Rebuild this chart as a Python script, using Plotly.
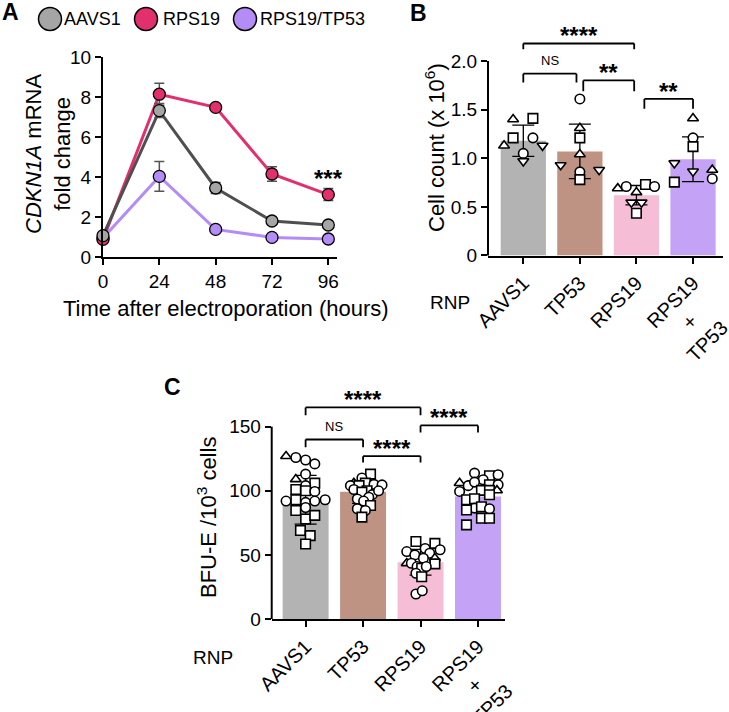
import plotly.graph_objects as go

W, H = 729, 712
FONT = "Liberation Sans, Arial, Helvetica, sans-serif"

# ---------------- Panel A data ----------------
time_h = [0, 24, 48, 72, 96]
aavs1_fc = [1.07, 7.32, 3.45, 1.80, 1.60]
aavs1_sd = [0.05, 0.35, 0.27, 0.15, 0.12]
rps19_fc = [0.88, 8.14, 7.48, 4.15, 3.12]
rps19_sd = [0.05, 0.55, 0.10, 0.36, 0.30]
rps19tp53_fc = [0.95, 4.03, 1.38, 0.98, 0.90]
rps19tp53_sd = [0.05, 0.74, 0.10, 0.08, 0.06]
series_names = ["AAVS1", "RPS19", "RPS19/TP53"]

# ---------------- Panel B data ----------------
NB = "\u00a0"
groups = ["AAVS1", "TP53", "RPS19", "RPS19<br>+" + NB * 5 + "<br>TP53" + NB * 2]
cell_mean = [1.18, 1.07, 0.62, 0.99]
cell_sd = [0.16, 0.28, 0.10, 0.23]
b_aavs1 = [1.40, 1.41, 1.21, 1.21, 1.13, 1.13, 1.05, 0.97]
b_aavs1_sym = ["triangle-up", "square", "square", "circle", "triangle-up", "triangle-down", "circle", "triangle-down"]
b_aavs1_jit = [-0.18, 0.17, -0.18, 0.17, -0.34, 0.34, 0.0, 0.0]
b_tp53 = [1.61, 1.31, 1.21, 1.04, 0.93, 0.88, 0.86, 0.78]
b_tp53_sym = ["circle", "triangle-up", "square", "triangle-up", "triangle-down", "triangle-down", "circle", "square"]
b_tp53_jit = [0.0, 0.0, 0.0, 0.0, -0.34, 0.34, 0.0, 0.0]
b_rps19 = [0.69, 0.71, 0.73, 0.71, 0.65, 0.545, 0.545, 0.435]
b_rps19_sym = ["triangle-up", "circle", "square", "circle", "triangle-up", "triangle-down", "triangle-down", "square"]
b_rps19_jit = [-0.33, -0.18, 0.16, 0.32, 0.0, -0.09, 0.09, 0.0]
b_dbl = [1.41, 1.21, 1.12, 0.95, 0.865, 0.88, 0.79, 0.755]
b_dbl_sym = ["triangle-up", "circle", "square", "triangle-down", "triangle-down", "triangle-up", "circle", "square"]
b_dbl_jit = [0.0, 0.0, 0.0, -0.33, 0.0, 0.34, 0.34, -0.33]

# ---------------- Panel C data ----------------
bfu_mean = [93.0, 99.2, 44.3, 95.6]
bfu_sd = [19.0, 9.0, 10.0, 12.0]
c_aavs1 = [127, 126, 124, 121, 113, 109, 106, 104, 101, 100, 99.5, 92, 93, 91, 92, 93, 84.6, 87, 78, 80.8, 69, 65, 58.5]
c_aavs1_sym = ["triangle-up", "circle", "circle", "circle", "circle", "triangle-up", "square", "circle", "square", "square",
               "circle", "circle", "square", "circle", "circle", "circle", "square", "circle", "square", "square",
               "square", "square", "square"]
c_aavs1_jit = [-0.34, -0.17, 0.0, 0.16, 0.0, -0.17, 0.16, 0.0, -0.17, 0.0,
               0.16, -0.34, -0.17, 0.0, 0.16, 0.34, -0.17, 0.0, 0.0, 0.16,
               -0.09, 0.08, 0.0]
c_tp53 = [113, 110, 106, 106, 104, 104, 105, 104.6, 100, 101, 99, 97, 100, 95, 93.6, 92, 88.5, 86, 84.6, 79.5]
c_tp53_sym = ["square", "circle", "square", "triangle-up", "circle", "square", "circle", "circle", "square", "circle",
              "square", "circle", "circle", "circle", "circle", "circle", "square", "circle", "circle", "square"]
c_tp53_jit = [0.13, -0.02, 0.04, -0.16, -0.22, -0.07, 0.19, 0.33, 0.07, -0.16,
              -0.02, 0.16, 0.27, 0.10, -0.10, 0.01, 0.13, -0.10, 0.04, -0.02]
c_rps19 = [60.4, 59, 52.6, 55, 54, 50, 51.3, 47.4, 47.4, 43.5, 43.5, 43, 40.9, 39.6, 40.9, 35.7, 33, 19.5, 22]
c_rps19_sym = ["square", "square", "circle", "circle", "circle", "circle", "circle", "circle", "triangle-up", "triangle-up",
               "circle", "square", "circle", "square", "circle", "circle", "square", "circle", "circle"]
c_rps19_jit = [-0.08, 0.25, -0.24, 0.08, 0.34, -0.10, 0.16, 0.05, 0.25, -0.24,
               -0.16, 0.25, -0.06, 0.02, 0.10, -0.08, 0.02, -0.08, 0.03]
c_dbl = [113.8, 111.7, 112.5, 108.6, 106, 104, 106.8, 104.7, 104.7, 99.5, 100.3, 100.3, 100.3, 93, 93.8, 96.9,
         86.5, 85, 87.5, 86, 78.6, 78.6, 73.4]
c_dbl_sym = ["circle", "square", "circle", "circle", "triangle-up", "circle", "circle", "square", "circle", "circle",
             "square", "square", "triangle-up", "square", "square", "square", "circle", "square", "square", "circle",
             "square", "square", "square"]
c_dbl_jit = [-0.06, 0.20, 0.35, 0.09, -0.32, -0.17, -0.06, 0.20, 0.35, -0.32,
             0.06, 0.20, 0.33, -0.20, -0.06, 0.20, -0.06, -0.20, 0.06, 0.20,
             0.06, 0.20, -0.20]

# ---------------- styles ----------------
line_cols = {"AAVS1": "#4f4f4f", "RPS19": "#e2306f", "RPS19/TP53": "#b48cf5"}
fill_cols = {"AAVS1": "#a5a5a5", "RPS19": "#e2306f", "RPS19/TP53": "#b48cf5"}
bar_cols = ["#b3b3b3", "#bf9383", "#f5bed6", "#c4a3f6"]
TICKF = dict(family=FONT, size=19, color="black")
CATF = dict(family=FONT, size=20, color="black")

def px(x):
    return x / W

def py(y):
    return 1 - y / H

fig = go.Figure()

# ---- Panel A traces ----
for name, ys, sd in [("RPS19/TP53", rps19tp53_fc, rps19tp53_sd),
                     ("RPS19", rps19_fc, rps19_sd),
                     ("AAVS1", aavs1_fc, aavs1_sd)]:
    fig.add_trace(go.Scatter(
        x=time_h, y=ys, mode="lines+markers", name=name, showlegend=False,
        line=dict(color=line_cols[name], width=3),
        marker=dict(size=12, color=fill_cols[name], line=dict(color="black", width=1.3)),
        error_y=dict(type="data", array=sd, color="#555555", thickness=1.5, width=5),
        cliponaxis=False, xaxis="x", yaxis="y"))

# ---- bar panels ----
def bar_panel(xa, ya, means, sds, pts):
    fig.add_trace(go.Bar(
        x=list(range(len(means))), y=means, width=0.8,
        marker=dict(color=bar_cols, line=dict(width=0)),
        error_y=dict(type="data", array=sds, color="black", thickness=1.3, width=11),
        showlegend=False, xaxis=xa, yaxis=ya))
    for i, (vals, syms, jit) in enumerate(pts):
        fig.add_trace(go.Scatter(
            x=[i + j for j in jit], y=vals, mode="markers", showlegend=False,
            marker=dict(symbol=syms, size=9.5, color="white", line=dict(color="black", width=1.6)),
            cliponaxis=False, xaxis=xa, yaxis=ya))

bar_panel("x2", "y2", cell_mean, cell_sd,
          [(b_aavs1, b_aavs1_sym, b_aavs1_jit), (b_tp53, b_tp53_sym, b_tp53_jit),
           (b_rps19, b_rps19_sym, b_rps19_jit), (b_dbl, b_dbl_sym, b_dbl_jit)])
bar_panel("x3", "y3", bfu_mean, bfu_sd,
          [(c_aavs1, c_aavs1_sym, c_aavs1_jit), (c_tp53, c_tp53_sym, c_tp53_jit),
           (c_rps19, c_rps19_sym, c_rps19_jit), (c_dbl, c_dbl_sym, c_dbl_jit)])

shapes = []
annos = []

def bracket(xa, ya, x0, x1, ytop, yl, yr, label, small=False):
    pts = [(x0, yl, x0, ytop), (x0, ytop, x1, ytop), (x1, ytop, x1, yr)]
    for a, b, c, d in pts:
        shapes.append(dict(type="line", xref=xa, yref=ya, x0=a, y0=b, x1=c, y1=d,
                           line=dict(color="black", width=1.8)))
    if small:
        annos.append(dict(xref=xa, yref=ya, x=(x0 + x1) / 2, y=ytop, xanchor="center", yanchor="bottom",
                          yshift=4, text=label, showarrow=False,
                          font=dict(family=FONT, size=13, color="black")))
    else:
        annos.append(dict(xref=xa, yref=ya, x=(x0 + x1) / 2, y=ytop, xanchor="center", yanchor="bottom",
                          yshift=-8, text=label, showarrow=False,
                          font=dict(family=FONT, size=24, color="black", weight="bold")))

# B brackets
YMAX_B = 2.25
bracket("x2", "y2", 0, 1.96, 2.18, 2.12, 2.12, "****")
bracket("x2", "y2", 0, 0.94, 1.87, 1.78, 1.78, "NS", small=True)
bracket("x2", "y2", 1.06, 1.96, 1.80, 1.69, 1.69, "**")
bracket("x2", "y2", 2.14, 3.0, 1.61, 1.51, 1.51, "**")
# C brackets
YMAX_C = 170
bracket("x3", "y3", 0, 2.0, 165, 159, 159, "****")
bracket("x3", "y3", 0, 1.0, 140, 134, 134, "NS", small=True)
bracket("x3", "y3", 1.0, 2.0, 127, 122, 122, "****")
bracket("x3", "y3", 2.0, 3.0, 151, 145.5, 145.5, "****")

# y spines for bar panels (end at top tick)
for xa, ya, top in [("x2", "y2", 2.0 / YMAX_B), ("x3", "y3", 150 / YMAX_C)]:
    shapes.append(dict(type="line", xref=xa + " domain", yref=ya + " domain", x0=0, x1=0, y0=0, y1=top,
                       line=dict(color="black", width=2)))

# "***" in A
annos.append(dict(xref="x", yref="y", x=96, y=3.15, xanchor="center", yanchor="bottom", text="***",
                  showarrow=False, font=dict(family=FONT, size=24, color="black", weight="bold")))

# legend A
leg_pos = [(50, 62), (146, 161), (245, 258)]
for (cx, tx), name in zip(leg_pos, series_names):
    shapes.append(dict(type="circle", xref="paper", yref="paper", xsizemode="pixel", ysizemode="pixel",
                       xanchor=px(cx), yanchor=py(19), x0=-11.5, x1=11.5, y0=-11.5, y1=11.5,
                       fillcolor=fill_cols[name], line=dict(color="black", width=1.5)))
    annos.append(dict(xref="paper", yref="paper", x=px(tx), y=py(19), xanchor="left", yanchor="middle",
                      text=name, showarrow=False, font=dict(family=FONT, size=18, color="black")))

# titles
TF = dict(family=FONT, size=22, color="black")
def label(x, y, text, font, angle=0):
    annos.append(dict(xref="paper", yref="paper", x=px(x), y=py(y), xanchor="center", yanchor="middle",
                      textangle=angle, showarrow=False, text=text, font=font))

label(48, 154, "<i>CDKN1A</i> mRNA<br>fold change", TF, -90)
label(226, 308, "Time after electroporation (hours)", TF)
label(435, 147, "Cell count (x 10<sup>6</sup>)", TF, -90)
label(207, 518, "BFU-E /10<sup>3</sup> cells", TF, -90)
label(450, 302, "RNP", TICKF)
label(213, 657, "RNP", TICKF)
LF = dict(family=FONT, size=23, color="black", weight="bold")
for t, x, y in [("A", 10, 12), ("B", 418, 12.5), ("C", 172, 386.5)]:
    label(x, y, t, LF)

ax_common = dict(showgrid=False, zeroline=False, ticks="outside", ticklen=6, tickwidth=2,
                 tickcolor="black", linecolor="black", linewidth=2, tickfont=TICKF, automargin=False)
cat_ax = dict(ax_common, tickfont=CATF, tickvals=[0, 1, 2, 3], ticktext=groups, tickangle=-45,
              ticklabeloverflow="allow", showline=True)

fig.update_layout(
    template="none",
    width=W, height=H, margin=dict(l=0, r=0, t=0, b=0, pad=0), autosize=False,
    paper_bgcolor="white", plot_bgcolor="white", showlegend=False,
    xaxis=dict(domain=[px(103), px(337)], range=[0, 99.7], anchor="y", showline=True,
               tickvals=time_h, **ax_common),
    yaxis=dict(domain=[py(257), py(57)], range=[0, 10], anchor="x", showline=True,
               tickvals=[0, 2, 4, 6, 8, 10], **ax_common),
    xaxis2=dict(domain=[px(488), px(723)], range=[-0.624, 3.53], anchor="y2", **cat_ax),
    yaxis2=dict(domain=[py(255.5), py(255.5 - YMAX_B * 97.25)], range=[0, YMAX_B], anchor="x2",
                showline=False, tickvals=[0, 0.5, 1.0, 1.5, 2.0],
                ticktext=["0", "0.5", "1.0", "1.5", "2.0"], **ax_common),
    xaxis3=dict(domain=[px(271.7), px(505)], range=[-0.59, 3.47], anchor="y3", **cat_ax),
    yaxis3=dict(domain=[py(619), py(619 - YMAX_C * 1.282)], range=[0, YMAX_C], anchor="x3",
                showline=False, tickvals=[0, 50, 100, 150], **ax_common),
    shapes=shapes, annotations=annos, bargap=0.2,
)

fig.write_html("out.html", config={"responsive": False, "displayModeBar": False},
               post_script="document.body.style.margin='0';document.body.style.padding='0';"
                           "document.documentElement.style.overflow='hidden';")
